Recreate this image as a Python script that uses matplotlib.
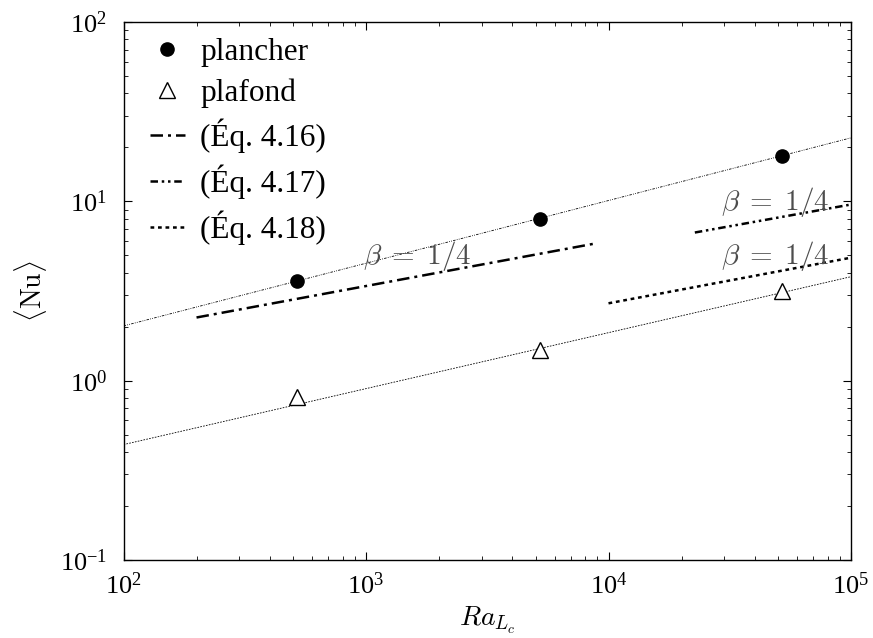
import numpy as np
import matplotlib
matplotlib.use("Agg")
import matplotlib.pyplot as plt

plt.rcParams['font.family'] = ['Liberation Serif', 'DejaVu Serif']
plt.rcParams['mathtext.fontset'] = 'cm'

## measured points
ra_pts = [5.2e2, 5.2e3, 5.2e4]
nu_plancher = [3.6, 8.0, 18.0]
nu_plafond = [0.81, 1.48, 3.17]

## fitted lines (end points)
ra_fit = [1e2, 1e5]
nu_fit_plancher = [2.02, 22.6]
nu_fit_plafond = [0.44, 3.8]

## correlations
ra_eq16 = [2.0e2, 9.0e3]
nu_eq16 = [2.25, 5.85]
ra_eq17 = [2.27e4, 1e5]
nu_eq17 = [6.7, 9.6]
ra_eq18 = [1e4, 1e5]
nu_eq18 = [2.7, 4.85]

labels = ['plancher', 'plafond', '(Éq. 4.16)', '(Éq. 4.17)', '(Éq. 4.18)']

## beta annotations (x, y)
beta_pos = [(1.62e3, 4.96), (4.86e4, 9.9), (4.86e4, 4.95)]

dashdot = (0, (5, 2, 1.2, 2))
dashdotdot = (0, (3, 1.5, 1, 1.5, 1, 1.5))
dotted = (0, (1.5, 1.5))

fig = plt.figure(figsize=(8.73, 6.38), dpi=100)
ax = fig.add_axes([0.1415, 0.1223, 0.8333, 0.8432])

## thin fits through data
ax.plot(ra_fit, nu_fit_plancher, color='k', lw=0.6, ls=dashdotdot)
ax.plot(ra_fit, nu_fit_plafond, color='k', lw=0.6, ls=(0, (2, 1.5)))

## data
ax.plot(ra_pts, nu_plancher, 'o', color='k', ms=9.5, label=labels[0])
ax.plot(ra_pts, nu_plafond, '^', mfc='white', mec='k', mew=1.0, ms=12, label=labels[1])

## correlations
ax.plot(ra_eq16, nu_eq16, color='k', lw=1.8, ls=dashdot, label=labels[2])
ax.plot(ra_eq17, nu_eq17, color='k', lw=1.8, ls=dashdotdot, label=labels[3])
ax.plot(ra_eq18, nu_eq18, color='k', lw=1.8, ls=dotted, label=labels[4])

for (bx, by) in beta_pos:
    ax.text(bx, by, r'$\beta\;=\;1/4$', color='0.3', fontsize=21, ha='center', va='center')

ax.set_xscale('log')
ax.set_yscale('log')
ax.set_xlim(1e2, 1e5)
ax.set_ylim(1e-1, 1e2)
ax.tick_params(which='both', direction='in', top=True, right=True, labelsize=19)
ax.tick_params(which='major', length=6)
ax.tick_params(which='minor', length=3)
ax.tick_params(axis='x', pad=9)
ax.tick_params(axis='y', pad=12)
for s in ax.spines.values():
    s.set_linewidth(1.0)

ax.set_xlabel(r'$Ra_{L_c}$', fontsize=20)
ax.set_ylabel(r'$\langle \mathrm{Nu} \rangle$', fontsize=20, labelpad=8)

leg_handles, leg_labels = ax.get_legend_handles_labels()
ax.legend(leg_handles, leg_labels, loc='upper left', bbox_to_anchor=(0.026, 0.985),
          frameon=False, fontsize=22.5, handlelength=1.1, handletextpad=0.5,
          labelspacing=0.36, borderaxespad=0, borderpad=0.25)

fig.savefig('out.png', dpi=100)
